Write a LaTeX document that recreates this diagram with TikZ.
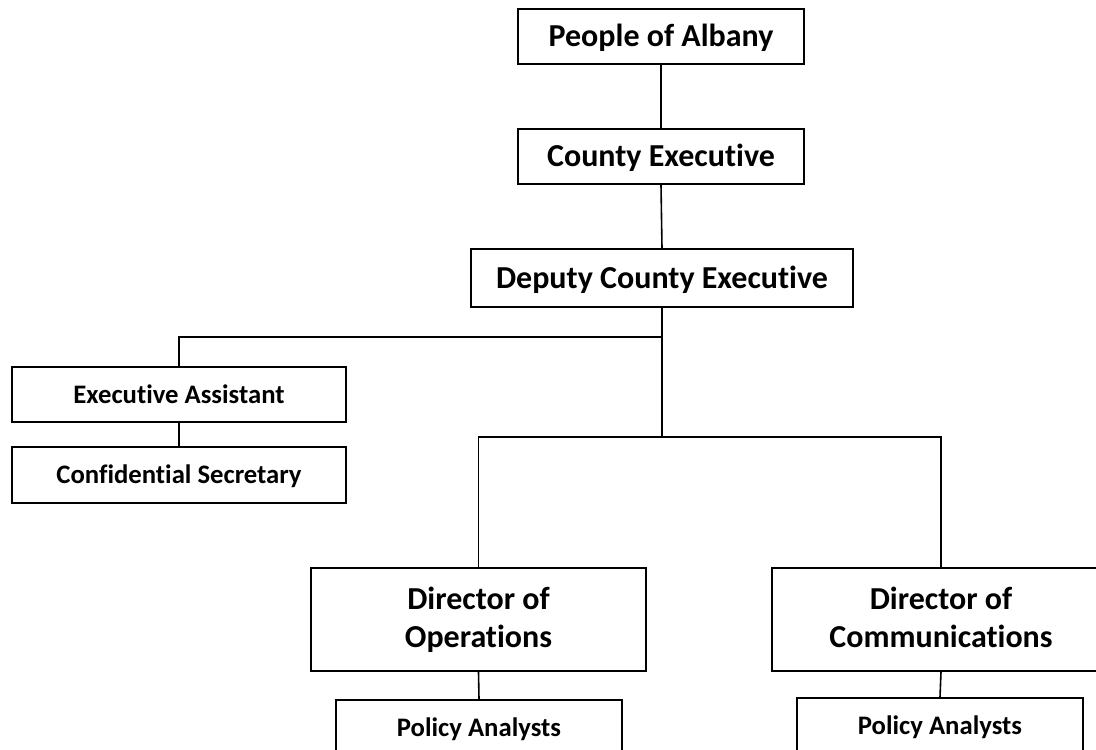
\documentclass[tikz,border=0pt]{standalone}
\usepackage{fontspec}
\setmainfont{Carlito}[Ligatures=NoCommon]
\begin{document}
\begin{tikzpicture}[x=1pt,y=-1pt,
  box/.style={draw=black, line width=1.6pt, rectangle, inner sep=0pt, align=center, font=\bfseries},
  big/.style={font=\fontsize{32}{38}\selectfont\bfseries},
  bigone/.style={big, text height=20.6pt, text depth=0pt},
  small/.style={font=\fontsize{26.7}{30}\selectfont\bfseries, text height=17.2pt, text depth=0pt},
  link/.style={line width=1.6pt}]
\useasboundingbox (0,0) rectangle (1096,750);
\clip (0,0) rectangle (1096,750);
\node[box,bigone,minimum width=286pt,minimum height=55pt] (poa) at (661,36.5) {People of Albany};
\node[box,bigone,minimum width=286pt,minimum height=55pt] (ce) at (661,156.5) {County Executive};
\node[box,bigone,minimum width=382pt,minimum height=58pt] (dce) at (662,278) {Deputy County Executive};
\node[box,small,minimum width=334pt,minimum height=55pt] (ea) at (179,394.5) {Executive Assistant};
\node[box,small,minimum width=334pt,minimum height=56pt] (cs) at (179,475) {Confidential Secretary};
\node[box,big,minimum width=335pt,minimum height=103pt] (dop) at (478.5,619.5) {Director of\\Operations};
\node[box,big,minimum width=338pt,minimum height=103pt] (dco) at (941,619.5) {Director of\\Communications\vphantom{p}};
\node[box,small,minimum width=286pt,minimum height=56pt] (pa1) at (479,728) {Policy Analysts};
\node[box,small,minimum width=286pt,minimum height=56pt] (pa2) at (940,726) {Policy Analysts};
\coordinate (j1) at (662,337);
\coordinate (j2) at (662,437);
\draw[link] (poa.south) -- (ce.north);
\draw[link] (ce.south) -- (dce.north);
\draw[link] (dce.south) -- (j2);
\draw[link] (ea.north) |- (j1);
\draw[link] (ea.south) -- (cs.north);
\draw[link] (dop.north) |- (j2) -| (dco.north);
\draw[link] (dop.south) -- (pa1.north);
\draw[link] (dco.south) -- (pa2.north);
\end{tikzpicture}
\end{document}
